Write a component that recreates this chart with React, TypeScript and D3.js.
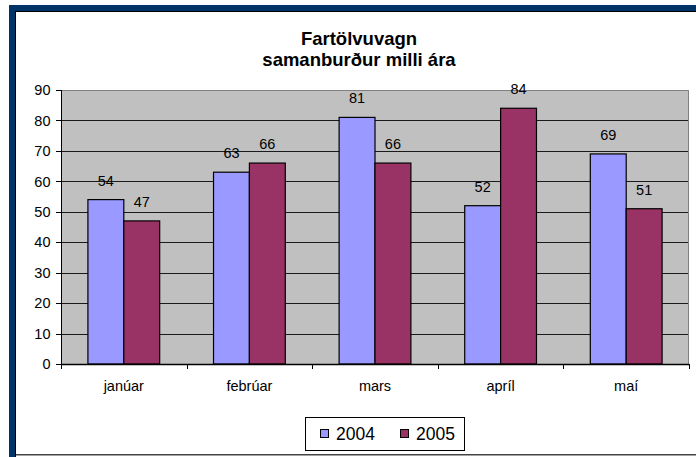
import React, { useRef, useEffect } from 'react';
import * as d3 from 'd3';

const categories = ['janúar', 'febrúar', 'mars', 'apríl', 'maí'];
const seriesNames = ['2004', '2005'];
const values2004 = [54, 63, 81, 52, 69];
const values2005 = [47, 66, 66, 84, 51];
const yTicks = [0, 10, 20, 30, 40, 50, 60, 70, 80, 90];
const titleLines = ['Fartölvuvagn', 'samanburður milli ára'];

const colors = ['#9999FF', '#993366'];
const font = '"Liberation Sans", Arial, sans-serif';

function App() {
  const svgRef = useRef(null);

  useEffect(() => {
    document.body.style.margin = '0';
    const svg = d3.select(svgRef.current);
    svg.selectAll('*').remove();

    const W = 696, H = 457;
    const plot = { left: 61, right: 689, top: 90, bottom: 364 };

    svg.append('rect').attr('width', W).attr('height', H).attr('fill', '#fff');

    // frame: thick blue left/top edge, thin line at bottom
    svg.append('rect').attr('x', 9).attr('y', 5).attr('width', W - 9).attr('height', 6).attr('fill', '#003366');
    svg.append('rect').attr('x', 9).attr('y', 5).attr('width', 6).attr('height', H - 5).attr('fill', '#003366');
    svg.append('rect').attr('x', 15).attr('y', 11).attr('width', W - 15).attr('height', 1).attr('fill', '#000');
    svg.append('rect').attr('x', 15).attr('y', 11).attr('width', 1).attr('height', H - 11).attr('fill', '#000');
    svg.append('rect').attr('x', 16).attr('y', 454).attr('width', W - 16).attr('height', 1.5).attr('fill', '#444');

    const x = d3.scaleBand().domain(categories).range([plot.left, plot.right]).padding(0);
    const x1 = d3.scaleBand().domain(seriesNames).range([0, x.bandwidth()]).paddingInner(0).paddingOuter(0.75);
    const y = d3.scaleLinear().domain([0, 90]).range([plot.bottom, plot.top]);

    // plot area
    svg.append('rect')
      .attr('x', plot.left).attr('y', plot.top)
      .attr('width', plot.right - plot.left).attr('height', plot.bottom - plot.top)
      .attr('fill', '#C0C0C0');

    // gridlines
    svg.append('g').selectAll('line')
      .data(yTicks.slice(1, -1))
      .enter().append('line')
      .attr('x1', plot.left).attr('x2', plot.right)
      .attr('y1', d => Math.round(y(d)) + 0.5).attr('y2', d => Math.round(y(d)) + 0.5)
      .attr('stroke', '#1a1a1a').attr('stroke-width', 1);

    // plot border top/right
    svg.append('path')
      .attr('d', `M${plot.left},${plot.top + 0.5}H${plot.right - 0.5}V${plot.bottom}`)
      .attr('fill', 'none').attr('stroke', '#808080').attr('stroke-width', 1);

    // bars
    const series = [values2004, values2005];
    series.forEach((vals, si) => {
      const g = svg.append('g');
      g.selectAll('rect')
        .data(vals)
        .enter().append('rect')
        .attr('x', (d, i) => x(categories[i]) + x1(seriesNames[si]))
        .attr('y', d => y(d))
        .attr('width', x1.bandwidth())
        .attr('height', d => plot.bottom - y(d))
        .attr('fill', colors[si])
        .attr('stroke', '#000').attr('stroke-width', 1.2);

      g.selectAll('text')
        .data(vals)
        .enter().append('text')
        .attr('x', (d, i) => x(categories[i]) + x1(seriesNames[si]) + x1.bandwidth() / 2)
        .attr('y', d => y(d) - 14)
        .attr('text-anchor', 'middle')
        .attr('font-family', font).attr('font-size', 14.5)
        .attr('fill', '#000')
        .text(d => d);
    });

    // y axis
    const yAxis = svg.append('g');
    yAxis.append('line')
      .attr('x1', plot.left + 0.5).attr('x2', plot.left + 0.5)
      .attr('y1', plot.top).attr('y2', plot.bottom + 5)
      .attr('stroke', '#000');
    yAxis.selectAll('line.tick')
      .data(yTicks)
      .enter().append('line')
      .attr('class', 'tick')
      .attr('x1', plot.left - 5).attr('x2', plot.left)
      .attr('y1', d => Math.round(y(d)) + 0.5).attr('y2', d => Math.round(y(d)) + 0.5)
      .attr('stroke', '#000');
    yAxis.selectAll('text')
      .data(yTicks)
      .enter().append('text')
      .attr('x', 50.5)
      .attr('y', d => y(d))
      .attr('dy', '0.36em')
      .attr('text-anchor', 'end')
      .attr('font-family', font).attr('font-size', 14.5)
      .text(d => d);

    // x axis
    const xAxis = svg.append('g');
    xAxis.append('line')
      .attr('x1', plot.left).attr('x2', plot.right)
      .attr('y1', plot.bottom + 0.5).attr('y2', plot.bottom + 0.5)
      .attr('stroke', '#000').attr('stroke-width', 1.5);
    const bounds = categories.map(c => x(c)).concat([plot.right]);
    xAxis.selectAll('line.tick')
      .data(bounds)
      .enter().append('line')
      .attr('class', 'tick')
      .attr('x1', d => Math.round(d) + 0.5).attr('x2', d => Math.round(d) + 0.5)
      .attr('y1', plot.bottom).attr('y2', plot.bottom + 5)
      .attr('stroke', '#000');
    xAxis.selectAll('text')
      .data(categories)
      .enter().append('text')
      .attr('x', d => x(d) + x.bandwidth() / 2)
      .attr('y', 391)
      .attr('text-anchor', 'middle')
      .attr('font-family', font).attr('font-size', 14.5)
      .text(d => d);

    // title
    svg.append('g').selectAll('text')
      .data(titleLines)
      .enter().append('text')
      .attr('x', 359)
      .attr('y', (d, i) => 44.5 + i * 21)
      .attr('text-anchor', 'middle')
      .attr('font-family', font).attr('font-size', 18.5).attr('font-weight', 'bold')
      .text(d => d);

    // legend
    const legend = svg.append('g');
    legend.append('rect')
      .attr('x', 305.5).attr('y', 417.5).attr('width', 159).attr('height', 33)
      .attr('fill', '#fff').attr('stroke', '#000');
    const legendX = [320.5, 400.5];
    seriesNames.forEach((name, i) => {
      legend.append('rect')
        .attr('x', legendX[i]).attr('y', 429.5).attr('width', 8).attr('height', 8)
        .attr('fill', colors[i]).attr('stroke', '#000');
      legend.append('text')
        .attr('x', legendX[i] + 15.5).attr('y', 439.5)
        .attr('font-family', font).attr('font-size', 17.5)
        .text(name);
    });
  }, []);

  return <svg ref={svgRef} width={696} height={457} style={{ display: 'block' }}></svg>;
}

export default App;
